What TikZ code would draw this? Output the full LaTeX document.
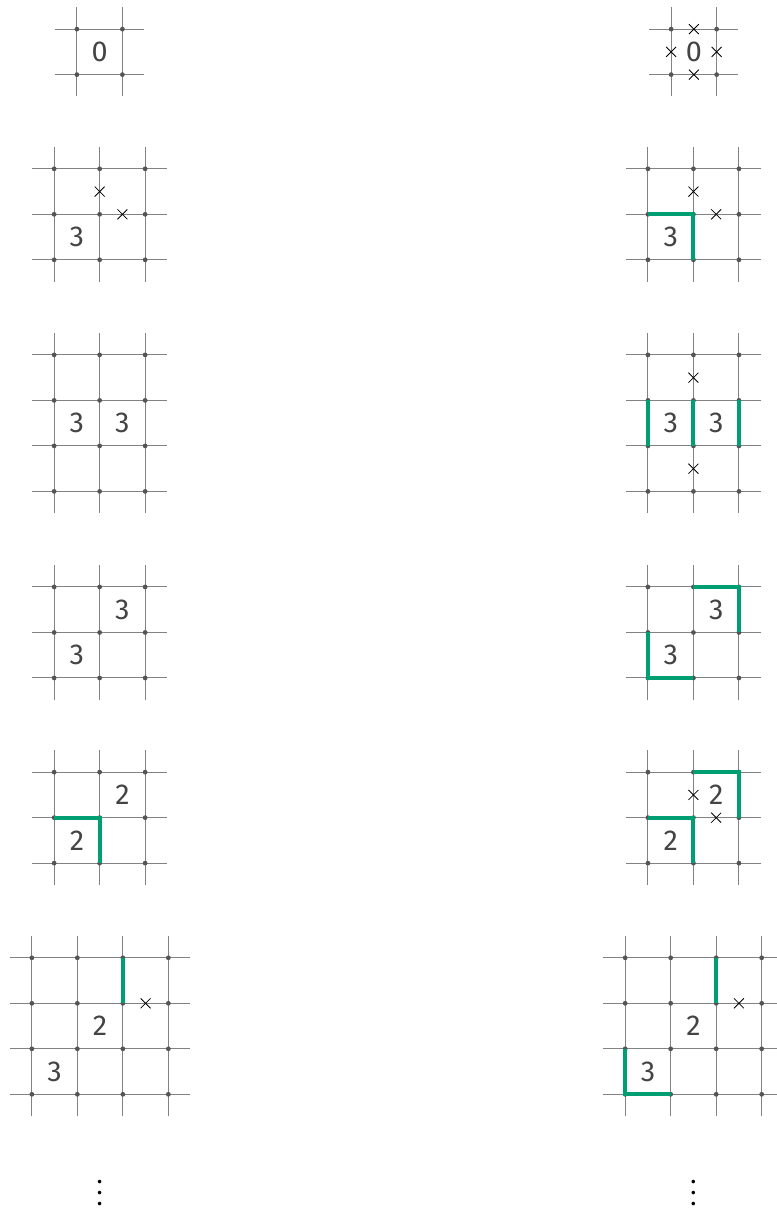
\documentclass[tikz,border=0pt]{standalone}
\usepackage{fontspec}
\setmainfont{Fira Sans}
\usetikzlibrary{positioning, shapes.misc}
\definecolor{rulegray}{RGB}{130,130,130}
\definecolor{dotgray}{RGB}{85,85,85}
\definecolor{loopgreen}{RGB}{0,158,115}
\definecolor{cluegray}{RGB}{68,68,68}

\tikzset{
  gridrule/.style={draw=rulegray, line width=0.6pt},
  griddot/.style={fill=dotgray},
  clue/.style={text=cluegray, font=\fontsize{18}{20}\selectfont, inner sep=0pt},
  nocross/.style={draw=black, cross out, line width=0.5pt, minimum size=0.2cm, inner sep=0pt},
  loopedge/.style={draw=loopgreen, line width=2.5pt},
}

% w x h cells, top-left lattice point at local (0,0)
\newcommand{\lattice}[2]{%
  \foreach \i in {0,...,#1} \draw[gridrule] (\i,0.48) -- (\i,-#2-0.48);
  \foreach \j in {0,...,#2} \draw[gridrule] (-0.48,-\j) -- (#1+0.48,-\j);
  \foreach \i in {0,...,#1} \foreach \j in {0,...,#2} \fill[griddot] (\i,-\j) circle (1.5pt);
}
\newcommand{\morerows}{\vbox{\baselineskip7pt\lineskiplimit-10pt\hbox{.}\hbox{.}\hbox{.}}}

\begin{document}
\begin{tikzpicture}
\useasboundingbox (0,0) rectangle (17.055,-26.637);

% step 1
\begin{scope}[shift={(1.69,-0.64)}]
  \lattice{1}{1}
  \node[clue] (a0) at (0.5,-0.5) {0};
\end{scope}
\begin{scope}[shift={(14.75,-0.64)}]
  \lattice{1}{1}
  \node[clue] (b0) at (0.5,-0.5) {0};
  \node[nocross] (bx1) at (0.5,0) {};
  \node[nocross] (bx2) at (0,-0.5) {};
  \node[nocross] (bx3) at (1,-0.5) {};
  \node[nocross] (bx4) at (0.5,-1) {};
\end{scope}

% step 2
\begin{scope}[shift={(1.19,-3.71)}]
  \lattice{2}{2}
  \node[clue] (a3) at (0.5,-1.5) {3};
  \node[nocross] (ax1) at (1,-0.5) {};
  \node[nocross] (ax2) at (1.5,-1) {};
\end{scope}
\begin{scope}[shift={(14.24,-3.71)}]
  \lattice{2}{2}
  \draw[loopedge] (0,-1) -- (1,-1) -- (1,-2);
  \node[clue] (b3) at (0.5,-1.5) {3};
  \node[nocross] (bx1) at (1,-0.5) {};
  \node[nocross] (bx2) at (1.5,-1) {};
\end{scope}

% step 3
\begin{scope}[shift={(1.19,-7.80)}]
  \lattice{2}{3}
  \node[clue] (a3l) at (0.5,-1.5) {3};
  \node[clue] (a3r) at (1.5,-1.5) {3};
\end{scope}
\begin{scope}[shift={(14.24,-7.80)}]
  \lattice{2}{3}
  \foreach \i in {0,1,2} \draw[loopedge] (\i,-1) -- (\i,-2);
  \node[clue] (b3l) at (0.5,-1.5) {3};
  \node[clue] (b3r) at (1.5,-1.5) {3};
  \node[nocross] (bx1) at (1,-0.5) {};
  \node[nocross] (bx2) at (1,-2.5) {};
\end{scope}

% step 4
\begin{scope}[shift={(1.19,-12.90)}]
  \lattice{2}{2}
  \node[clue] (a3t) at (1.5,-0.5) {3};
  \node[clue] (a3b) at (0.5,-1.5) {3};
\end{scope}
\begin{scope}[shift={(14.24,-12.90)}]
  \lattice{2}{2}
  \draw[loopedge] (1,0) -- (2,0) -- (2,-1);
  \draw[loopedge] (0,-1) -- (0,-2) -- (1,-2);
  \node[clue] (b3t) at (1.5,-0.5) {3};
  \node[clue] (b3b) at (0.5,-1.5) {3};
\end{scope}

% step 5
\begin{scope}[shift={(1.19,-16.97)}]
  \lattice{2}{2}
  \draw[loopedge] (0,-1) -- (1,-1) -- (1,-2);
  \node[clue] (a2t) at (1.5,-0.5) {2};
  \node[clue] (a2b) at (0.5,-1.5) {2};
\end{scope}
\begin{scope}[shift={(14.24,-16.97)}]
  \lattice{2}{2}
  \draw[loopedge] (0,-1) -- (1,-1) -- (1,-2);
  \draw[loopedge] (1,0) -- (2,0) -- (2,-1);
  \node[clue] (b2t) at (1.5,-0.5) {2};
  \node[clue] (b2b) at (0.5,-1.5) {2};
  \node[nocross] (bx1) at (1,-0.5) {};
  \node[nocross] (bx2) at (1.5,-1) {};
\end{scope}

% step 6
\begin{scope}[shift={(0.70,-21.05)}]
  \lattice{3}{3}
  \draw[loopedge] (2,0) -- (2,-1);
  \node[clue] (a2) at (1.5,-1.5) {2};
  \node[clue] (a3) at (0.5,-2.5) {3};
  \node[nocross] (ax1) at (2.5,-1) {};
\end{scope}
\begin{scope}[shift={(13.74,-21.05)}]
  \lattice{3}{3}
  \draw[loopedge] (2,0) -- (2,-1);
  \draw[loopedge] (0,-2) -- (0,-3) -- (1,-3);
  \node[clue] (b2) at (1.5,-1.5) {2};
  \node[clue] (b3) at (0.5,-2.5) {3};
  \node[nocross] (bx1) at (2.5,-1) {};
\end{scope}

\node[clue, text=black, font=\fontsize{16}{7}\selectfont] (moreL) at (2.19,-26.22) {\morerows};
\node[clue, text=black, font=\fontsize{16}{7}\selectfont] (moreR) at (15.24,-26.22) {\morerows};
\end{tikzpicture}
\end{document}
